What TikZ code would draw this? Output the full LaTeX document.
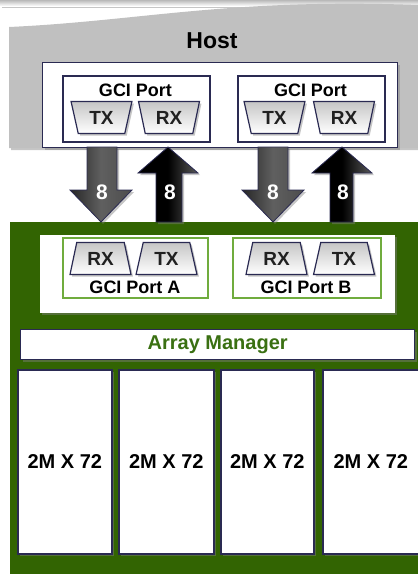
\documentclass[tikz,border=0pt]{standalone}
\usepackage{fontspec}
\setmainfont{Liberation Sans}
\usetikzlibrary{shadows,shapes.geometric}

\definecolor{navy}{RGB}{42,42,82}
\definecolor{hostgray}{RGB}{192,192,192}
\definecolor{board}{RGB}{50,100,2}
\definecolor{portgreen}{RGB}{112,172,62}
\definecolor{mgrtext}{RGB}{58,112,18}

\tikzset{
  shade/.style={drop shadow={opacity=0.45,shadow xshift=2pt,shadow yshift=-2pt}},
  panel/.style={draw=navy, line width=1.4pt, fill=white, shade},
  hostport/.style={draw=navy, line width=2pt, fill=white},
  boardport/.style={draw=portgreen, line width=2pt, fill=white},
  lane/.style={trapezium, trapezium stretches=true, draw=navy, line width=1.2pt,
    minimum width=61pt, minimum height=32pt, inner sep=0pt,
    trapezium left angle=74, trapezium right angle=74,
    top color=gray!45, bottom color=white, shade,
    font=\fontsize{19}{19}\bfseries, text=gray!25!black},
  lanedown/.style={lane, shape border rotate=180},
  title/.style={font=\fontsize{18}{18}\bfseries, text=black},
  width8/.style={font=\fontsize{21}{21}\bfseries, text=white},
  memory/.style={panel, line width=1.6pt, anchor=north west, inner sep=0pt,
    font=\fontsize{20}{20}\bfseries},
  downarrow/.style={draw=navy, line width=0.8pt, left color=gray!30!black,
    right color=gray!60!black, middle color=gray!75!black, shade},
  uparrow/.style={draw=navy, line width=0.8pt, left color=black,
    right color=gray!70!black, middle color=black, shade},
}

\begin{document}
\begin{tikzpicture}[x=1pt,y=-1pt]
\useasboundingbox (0,0) rectangle (418,574);

% faint strip along the upper edge
\shade[top color=gray!55, bottom color=white] (0,0) rectangle (418,6);

% host
\path[fill=hostgray, shade] (9,148) -- (9,27)
  .. controls (140,21) and (230,-2) .. (418,5) -- (418,148) -- cycle;
\node[font=\fontsize{23}{23}\bfseries] (host) at (212,41) {Host};

\node[panel, anchor=north west, minimum width=355pt, minimum height=85pt, inner sep=0pt]
  (hostpanel) at (42,62) {};
\node[hostport, anchor=north west, minimum width=147pt, minimum height=66pt, inner sep=0pt]
  (hp1) at (62,75) {};
\node[hostport, anchor=north west, minimum width=147pt, minimum height=66pt, inner sep=0pt]
  (hp2) at (237,75) {};
\node[title] (hp1t) at (135.5,90) {GCI Port};
\node[title] (hp2t) at (310.5,90) {GCI Port};
\node[lanedown] (htx1) at (101.5,117.5) {TX};
\node[lanedown] (hrx1) at (169,117.5) {RX};
\node[lanedown] (htx2) at (274.5,117.5) {TX};
\node[lanedown] (hrx2) at (344,117.5) {RX};

% device board
\fill[board] (10,222) rectangle (418,574);
\node[fill=white, shade, anchor=north west, minimum width=355pt, minimum height=78pt, inner sep=0pt]
  (devpanel) at (40,235) {};
\node[boardport, anchor=north west, minimum width=145pt, minimum height=60pt, inner sep=0pt]
  (pa) at (62,237) {};
\node[boardport, anchor=north west, minimum width=148pt, minimum height=60pt, inner sep=0pt]
  (pb) at (232,237) {};
\node[lane] (drxa) at (100.5,258.5) {RX};
\node[lane] (dtxa) at (166.5,258.5) {TX};
\node[lane] (drxb) at (276.5,258.5) {RX};
\node[lane] (dtxb) at (344,258.5) {TX};
\node[title] (pat) at (135,287) {GCI Port A};
\node[title] (pbt) at (306,287) {GCI Port B};

\node[panel, anchor=north west, minimum width=394pt, minimum height=30pt, inner sep=0pt,
  font=\fontsize{20}{20}\bfseries, text=mgrtext] (mgr) at (20,329) {Array Manager};

\node[memory, minimum width=94pt, minimum height=184pt] (m1) at (17,369) {2M X 72};
\node[memory, minimum width=95pt, minimum height=184pt] (m2) at (118,369) {2M X 72};
\node[memory, minimum width=93pt, minimum height=184pt] (m3) at (220,369) {2M X 72};
\node[memory, minimum width=96pt, minimum height=184pt] (m4) at (322,369) {2M X 72};

% 8-bit lanes between host and device
\path[downarrow] (87,147) -- (117,147) -- (117,190) -- (132,190) -- (101,222)
  -- (70,190) -- (87,190) -- cycle;
\path[uparrow] (156,222) -- (182,222) -- (182,173) -- (198,173) -- (168,147)
  -- (138,173) -- (156,173) -- cycle;
\path[downarrow] (258,147) -- (288,147) -- (288,190) -- (304,190) -- (273,222)
  -- (242,190) -- (258,190) -- cycle;
\path[uparrow] (330,222) -- (353,222) -- (353,173) -- (372,173) -- (342,147)
  -- (312,173) -- (330,173) -- cycle;
\node[width8] (w1) at (102,192) {8};
\node[width8] (w2) at (170,192) {8};
\node[width8] (w3) at (273,192) {8};
\node[width8] (w4) at (343,192) {8};
\end{tikzpicture}
\end{document}
